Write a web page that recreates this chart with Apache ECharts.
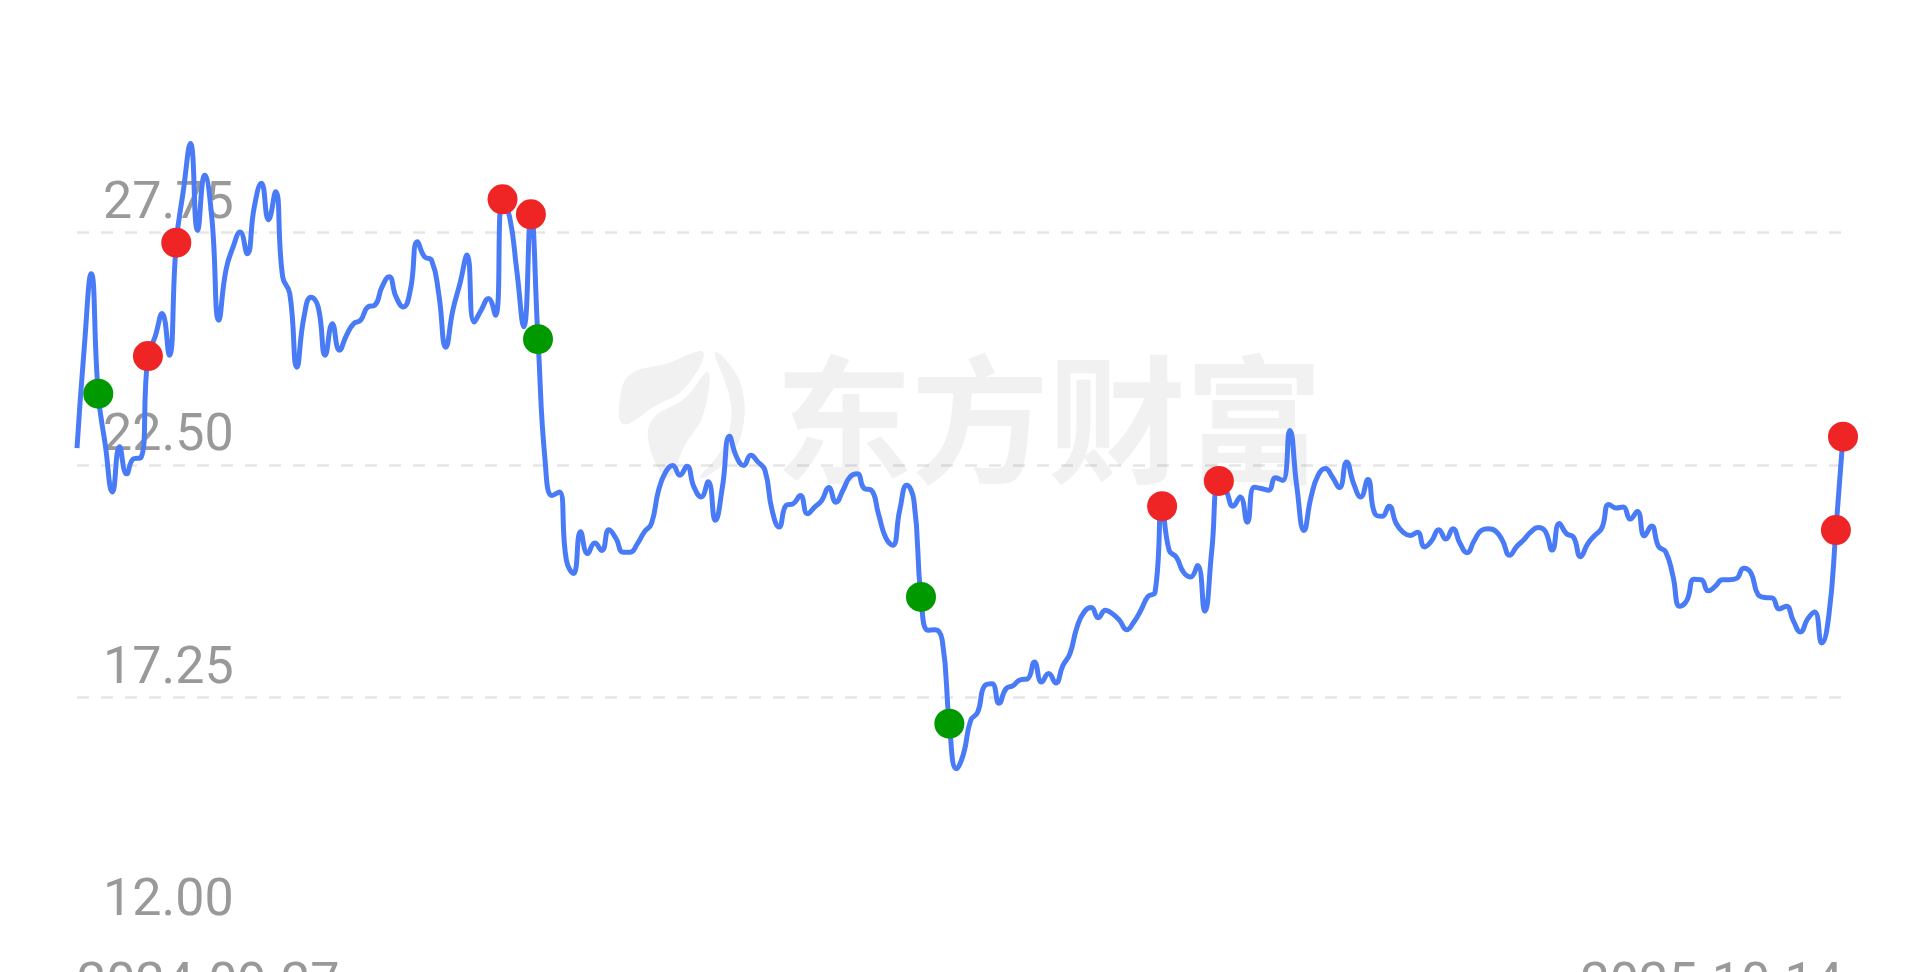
<!DOCTYPE html>
<html>
<head>
<meta charset="utf-8">
<script src="https://cdn.jsdelivr.net/npm/echarts@6/dist/echarts.min.js"></script>
<style>
html,body{margin:0;padding:0;background:#ffffff;}
#chart{width:1920px;height:972px;}
</style>
</head>
<body>
<div id="chart"></div>
<script>
// ---- data ----
const xLabels = ['2024-09-27', '2025-10-14'];
const yTicks = [12, 17.25, 22.5, 27.75, 33];
const prices = [
  22.88, 25.10, 26.82, 24.11, 22.94, 21.89, 22.91, 22.30, 22.64, 22.66,
  24.96, 25.39, 25.92, 24.98, 27.52, 28.70, 29.76, 27.80, 29.04, 28.10,
  25.77, 26.90, 27.42, 27.76, 27.27, 28.33, 28.86, 28.04, 28.67, 26.75,
  26.37, 24.71, 25.84, 26.29, 26.07, 24.98, 25.69, 25.09, 25.43, 25.69,
  25.77, 26.07, 26.11, 26.52, 26.75, 26.29, 26.07, 26.45, 27.54, 27.20,
  27.12, 26.37, 25.16, 26.00, 26.60, 27.24, 25.73, 26.00, 26.26, 25.88,
  28.50, 28.10, 26.90, 25.62, 28.16, 25.34, 22.60, 21.81, 21.89, 20.35,
  20.05, 20.99, 20.50, 20.74, 20.57, 21.04, 20.84, 20.53, 20.53, 20.72,
  20.99, 21.18, 21.93, 22.34, 22.49, 22.27, 22.47, 22.00, 21.78, 22.12,
  21.25, 22.00, 23.15, 22.68, 22.49, 22.72, 22.57, 22.38, 21.48, 21.10,
  21.59, 21.63, 21.81, 21.40, 21.55, 21.70, 21.99, 21.66, 21.93, 22.23,
  22.30, 21.97, 21.93, 21.40, 20.87, 20.69, 21.48, 22.04, 21.70, 19.52,
  18.77, 18.78, 18.54, 16.66, 15.64, 15.98, 16.73, 16.92, 17.52, 17.56,
  17.12, 17.45, 17.52, 17.65, 17.67, 18.05, 17.60, 17.79, 17.58, 17.97,
  18.24, 18.84, 19.18, 19.28, 19.05, 19.22, 19.14, 18.99, 18.78, 18.95,
  19.22, 19.53, 19.63, 21.57, 20.57, 20.42, 20.08, 19.97, 20.23, 19.20,
  20.57, 22.14, 21.93, 21.57, 21.78, 21.21, 22.00, 21.97, 21.93, 22.21,
  22.15, 23.28, 22.00, 21.02, 21.78, 22.27, 22.42, 22.23, 21.99, 22.57,
  22.08, 21.78, 22.17, 21.40, 21.34, 21.57, 21.18, 20.98, 20.91, 20.98,
  20.65, 20.79, 21.04, 20.83, 21.06, 20.73, 20.52, 20.79, 21.02, 21.06,
  21.01, 20.79, 20.46, 20.66, 20.81, 20.99, 21.09, 21.01, 20.58, 21.18,
  20.95, 20.87, 20.43, 20.72, 20.91, 21.08, 21.61, 21.53, 21.55, 21.28,
  21.45, 20.90, 21.12, 20.66, 20.54, 20.01, 19.31, 19.45, 19.92, 19.91,
  19.66, 19.76, 19.91, 19.91, 19.94, 20.17, 20.07, 19.58, 19.51, 19.50,
  19.25, 19.31, 18.98, 18.73, 19.02, 19.18, 18.48, 19.10, 21.03, 23.14
];
const redIdx = [10, 14, 60, 64, 153, 161, 248, 249];
const greenIdx = [3, 65, 119, 123];

// ---- chart ----
const lastIdx = prices.length - 1;
const lineData = prices.map((v, i) => [i, v]);
const redData = redIdx.map(i => [i, prices[i]]);
const greenData = greenIdx.map(i => [i, prices[i]]);

const wmColor = '#f1f1f1';
const wmFont = 'bold 138px "Noto Sans CJK SC"';
const chart = echarts.init(document.getElementById('chart'), null, {renderer: 'canvas'});
chart.setOption({
  animation: false,
  backgroundColor: '#ffffff',
  grid: {left: 77, right: 77, top: 0, bottom: 42, containLabel: false, outerBoundsMode: 'none'},
  graphic: [
    {type: 'polygon', z: -10, shape: {smooth: 0.4, points: [[621,392],[632,373],[665,364],[703,352],[685,388],[655,406],[623,424]]}, style: {fill: wmColor}},
    {type: 'polygon', z: -10, shape: {smooth: 0.4, points: [[652,420],[685,398],[708,372],[703,415],[685,445],[668,478],[650,448]]}, style: {fill: wmColor}},
    {type: 'polygon', z: -10, shape: {smooth: 0.4, points: [[715,352],[740,382],[742,432],[722,465],[700,478],[724,445],[731,405]]}, style: {fill: wmColor}},
    {type: 'text', z: -10, style: {text: '东', x: 844, y: 420, align: 'center', verticalAlign: 'middle', font: wmFont, fill: wmColor}},
    {type: 'text', z: -10, style: {text: '方', x: 980, y: 420, align: 'center', verticalAlign: 'middle', font: wmFont, fill: wmColor}},
    {type: 'text', z: -10, style: {text: '财', x: 1117, y: 420, align: 'center', verticalAlign: 'middle', font: wmFont, fill: wmColor}},
    {type: 'text', z: -10, style: {text: '富', x: 1254, y: 420, align: 'center', verticalAlign: 'middle', font: wmFont, fill: wmColor}}
  ],
  xAxis: {
    type: 'value',
    min: 0,
    max: lastIdx,
    axisLine: {show: false},
    axisTick: {show: false, customValues: [0, lastIdx]},
    splitLine: {show: false},
    axisLabel: {
      customValues: [0, lastIdx],
      alignMinLabel: 'left',
      alignMaxLabel: 'right',
      margin: 30,
      color: '#999999',
      fontSize: 52,
      fontFamily: 'Roboto',
      formatter: v => (v === 0 ? xLabels[0] : xLabels[1])
    }
  },
  yAxis: {
    type: 'value',
    min: yTicks[0],
    max: yTicks[yTicks.length - 1],
    axisLine: {show: false},
    axisTick: {show: false, customValues: yTicks},
    splitLine: {
      show: true,
      showMinLine: false,
      showMaxLine: false,
      lineStyle: {color: 'rgba(0,0,0,0.1)', width: 2.5, type: [12, 12]}
    },
    axisLabel: {
      inside: true,
      customValues: yTicks.slice(0, yTicks.length - 1),
      margin: 26,
      verticalAlign: 'bottom',
      padding: [0, 0, 2, 0],
      color: '#999999',
      fontSize: 52,
      fontFamily: 'Roboto',
      formatter: v => v.toFixed(2)
    }
  },
  series: [
    {
      type: 'line',
      data: lineData,
      smooth: true,
      showSymbol: false,
      symbol: 'none',
      lineStyle: {color: '#4a7bf6', width: 5},
      z: 2
    },
    {
      type: 'scatter',
      data: redData,
      symbolSize: 30,
      itemStyle: {color: '#ef2424', opacity: 1},
      z: 3
    },
    {
      type: 'scatter',
      data: greenData,
      symbolSize: 30,
      itemStyle: {color: '#009a00', opacity: 1},
      z: 3
    }
  ]
});
</script>
</body>
</html>
